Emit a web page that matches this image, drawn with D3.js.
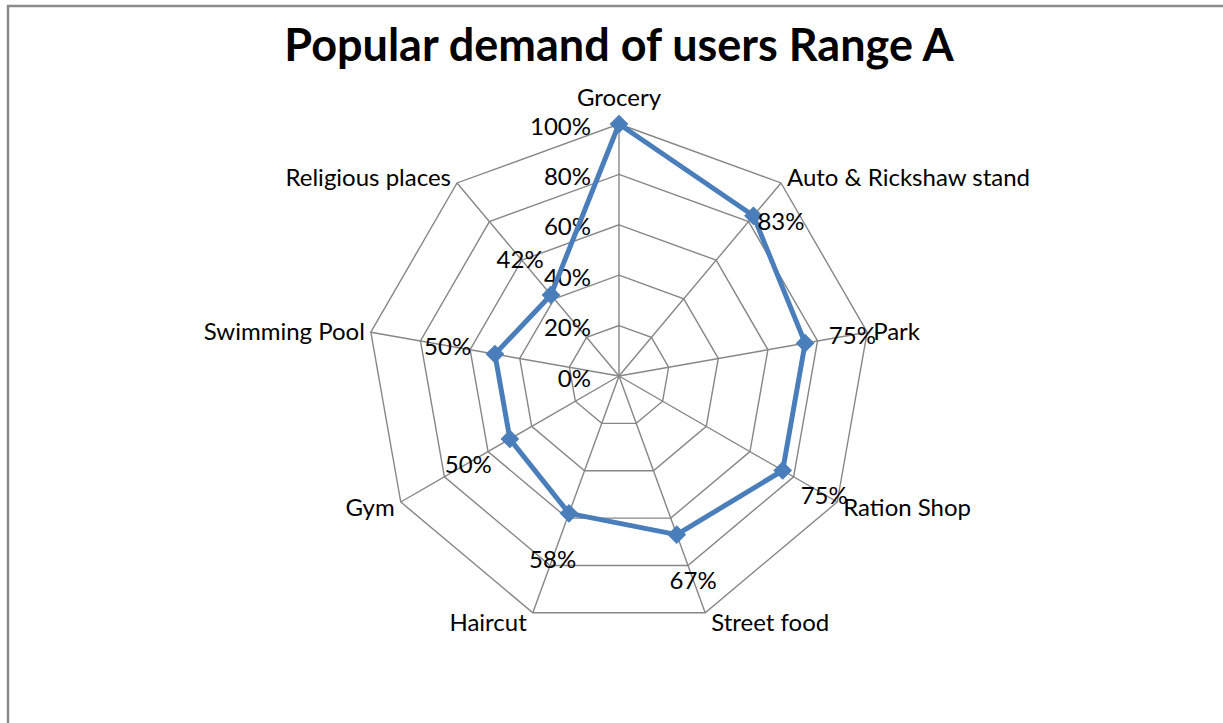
<!DOCTYPE html>
<html lang="en">
<head>
<meta charset="UTF-8">
<title>Popular demand of users Range A</title>
<script src="https://d3js.org/d3.v7.min.js"></script>
<style>
  body { margin: 0; background: #fff; }
  text { font-family: Lato, "Open Sans", sans-serif; fill: #000; }
</style>
</head>
<body>
<svg id="chart" width="1223" height="723"></svg>
<script>
// data
const categories = ["Grocery", "Auto & Rickshaw stand", "Park", "Ration Shop", "Street food",
                    "Haircut", "Gym", "Swimming Pool", "Religious places"];
const values = [1.00, 0.83, 0.75, 0.75, 0.67, 0.58, 0.50, 0.50, 0.42];
const valueLabels = ["100%", "83%", "75%", "75%", "67%", "58%", "50%", "50%", "42%"];
const ticks = [0, 0.2, 0.4, 0.6, 0.8, 1.0];
const tickLabels = ["0%", "20%", "40%", "60%", "80%", "100%"];

const width = 1223, height = 723;
const cx = 619, cy = 376, radius = 252;
const gridColor = "#868686", lineColor = "#4a7ebb";
const fontSize = "24px";

const svg = d3.select("#chart");

// chart frame (only top and left edges are visible in the crop)
svg.append("rect")
    .attr("x", 8).attr("y", 6)
    .attr("width", width).attr("height", height)
    .attr("fill", "none")
    .attr("stroke", "#8a8a8a")
    .attr("stroke-width", 2.5);

svg.append("text")
    .attr("x", 619).attr("y", 61)
    .attr("text-anchor", "middle")
    .style("font-size", "45px")
    .style("font-weight", "bold")
    .text("Popular demand of users Range A");

const r = d3.scaleLinear().domain([0, 1]).range([0, radius]);
const ang = i => i * 2 * Math.PI / categories.length;
const pt = (i, v) => [cx + r(v) * Math.sin(ang(i)), cy - r(v) * Math.cos(ang(i))];

const g = svg.append("g");

// rings
ticks.filter(t => t > 0).forEach(t => {
    g.append("path")
        .attr("d", d3.line()(categories.map((c, i) => pt(i, t))) + "Z")
        .attr("fill", "none")
        .attr("stroke", gridColor)
        .attr("stroke-width", 1.4);
});

// spokes
categories.forEach((c, i) => {
    const p = pt(i, 1);
    g.append("line")
        .attr("x1", cx).attr("y1", cy)
        .attr("x2", p[0]).attr("y2", p[1])
        .attr("stroke", gridColor)
        .attr("stroke-width", 1.4);
});

// tick labels on the vertical axis
g.selectAll(".tick")
    .data(ticks)
    .join("text")
    .attr("class", "tick")
    .attr("x", cx - 28)
    .attr("y", t => cy - r(t) + 1)
    .attr("text-anchor", "end")
    .attr("dominant-baseline", "central")
    .style("font-size", fontSize)
    .text((t, i) => tickLabels[i]);

// category labels
categories.forEach((c, i) => {
    const a = ang(i), p = pt(i, 1);
    const s = Math.sin(a);
    let anchor = "middle", x = p[0], y = p[1] - 9 * Math.cos(a);
    if (s > 0.1) { anchor = "start"; x = p[0] + 6; }
    else if (s < -0.1) { anchor = "end"; x = p[0] - 6; }
    else { y = p[1] - 28; }
    g.append("text")
        .attr("x", x).attr("y", y)
        .attr("text-anchor", anchor)
        .attr("dominant-baseline", "central")
        .style("font-size", fontSize)
        .text(c);
});

// series line
g.append("path")
    .attr("d", d3.line()(values.map((v, i) => pt(i, v))) + "Z")
    .attr("fill", "none")
    .attr("stroke", lineColor)
    .attr("stroke-width", 5)
    .attr("stroke-linejoin", "round");

// diamond markers
g.selectAll(".marker")
    .data(values)
    .join("path")
    .attr("class", "marker")
    .attr("d", d3.symbol(d3.symbolSquare, 150))
    .attr("transform", (v, i) => `translate(${pt(i, v)}) rotate(45)`)
    .attr("fill", lineColor)
    .attr("stroke", lineColor)
    .attr("stroke-width", 1);

// data labels, pushed outward from each point; Auto label sits to the right
const labelPush = 48;
const labelShift = { 1: [4, 5] };
values.forEach((v, i) => {
    if (i === 0) return; // coincides with the 100% axis label
    const p = pt(i, v), a = ang(i);
    let dx = labelPush * Math.sin(a), dy = -labelPush * Math.cos(a);
    if (labelShift[i]) [dx, dy] = labelShift[i];
    g.append("text")
        .attr("x", p[0] + dx).attr("y", p[1] + dy)
        .attr("text-anchor", labelShift[i] ? "start" : "middle")
        .attr("dominant-baseline", "central")
        .style("font-size", fontSize)
        .text(valueLabels[i]);
});
</script>
</body>
</html>
